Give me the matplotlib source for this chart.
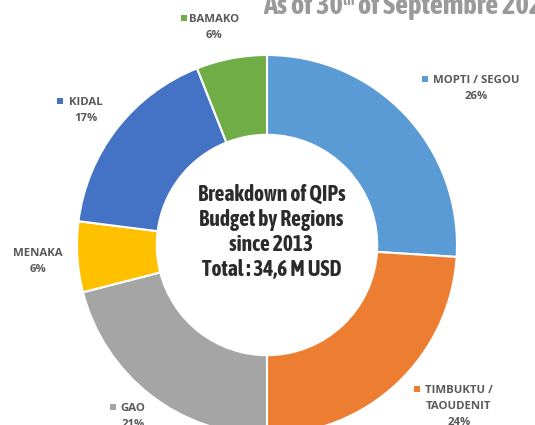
import matplotlib
matplotlib.use("Agg")
import matplotlib.pyplot as plt

OUTPUT = "out.png"

regions = ["MOPTI / SEGOU", "TIMBUKTU /\nTAOUDENIT", "GAO", "MENAKA", "KIDAL", "BAMAKO"]
shares = [26, 24, 21, 6, 17, 6]
colors = ["#5B9BD5", "#ED7D31", "#A5A5A5", "#FFC000", "#4472C4", "#70AD47"]
show_marker = [True, True, True, False, True, True]

center_lines = ["Breakdown of QIPs", "Budget by Regions", "since 2013", "Total : 34,6 M USD"]
title_parts = ["As of 30", "th", " of Septembre 2024"]

COND = ["Asap Condensed", "PT Sans Narrow", "DejaVu Sans"]
LABEL_FONT = ["Open Sans", "DejaVu Sans"]

W, H = 535, 425
CX, CY, R = 267, 245, 190  # pie centre / radius in pixels


def px(x, y):
    # pixel position (from top-left) -> data coords
    return (x - CX) / R, (CY - y) / R


fig = plt.figure(figsize=(W / 100, H / 100), dpi=100)
ax = fig.add_axes([0, 0, 1, 1])

ax.pie(shares, colors=colors, startangle=90, counterclock=False, radius=1.0,
       wedgeprops=dict(width=0.42, edgecolor="white", linewidth=1.5))
ax.set_xlim((0 - CX) / R, (W - CX) / R)
ax.set_ylim((CY - H) / R, CY / R)
ax.axis("off")

# centre text, one line at a time
for i, line in enumerate(center_lines):
    ax.text(*px(271.5, 192.5 + i * 25), line, ha="center", va="center_baseline",
            fontsize=15.5, fontweight="bold", color="#2b2b2b", family=COND)

# title (cut off at the top/right like the source)
renderer = fig.canvas.get_renderer()
x0 = 263
for part, size, dy in zip(title_parts, [20.5, 10.5, 20.5], [0, -9, 0]):
    t = ax.text(*px(x0, 14 + dy), part, ha="left", va="baseline", fontsize=size,
                fontweight="bold", color="#9a9a9a", family=COND)
    bb = t.get_window_extent(renderer)
    x0 += bb.width

# label layout: (text centre x, first line centre y, marker x) in pixels
label_pos = [(476, 79, 425), (459, 389, 417.5), (133, 407, 113),
             (38, 252, None), (86, 101, 60.5), (214, 18, 184)]
LINE_STEP = 15.8
for name, share, col, mk, pos in zip(regions, shares, colors, show_marker, label_pos):
    tx, ty, mx = pos
    lines = name.split("\n") + [f"{share}%"]
    for j, line in enumerate(lines):
        ax.text(*px(tx, ty + j * LINE_STEP), line, ha="center", va="center_baseline",
                fontsize=8.2, fontweight="bold", color="#595959", family=LABEL_FONT)
    if mx is not None:
        ax.scatter(*px(mx, ty), marker="s", s=13, color=col, linewidths=0, zorder=5)

fig.savefig(OUTPUT, dpi=100)
